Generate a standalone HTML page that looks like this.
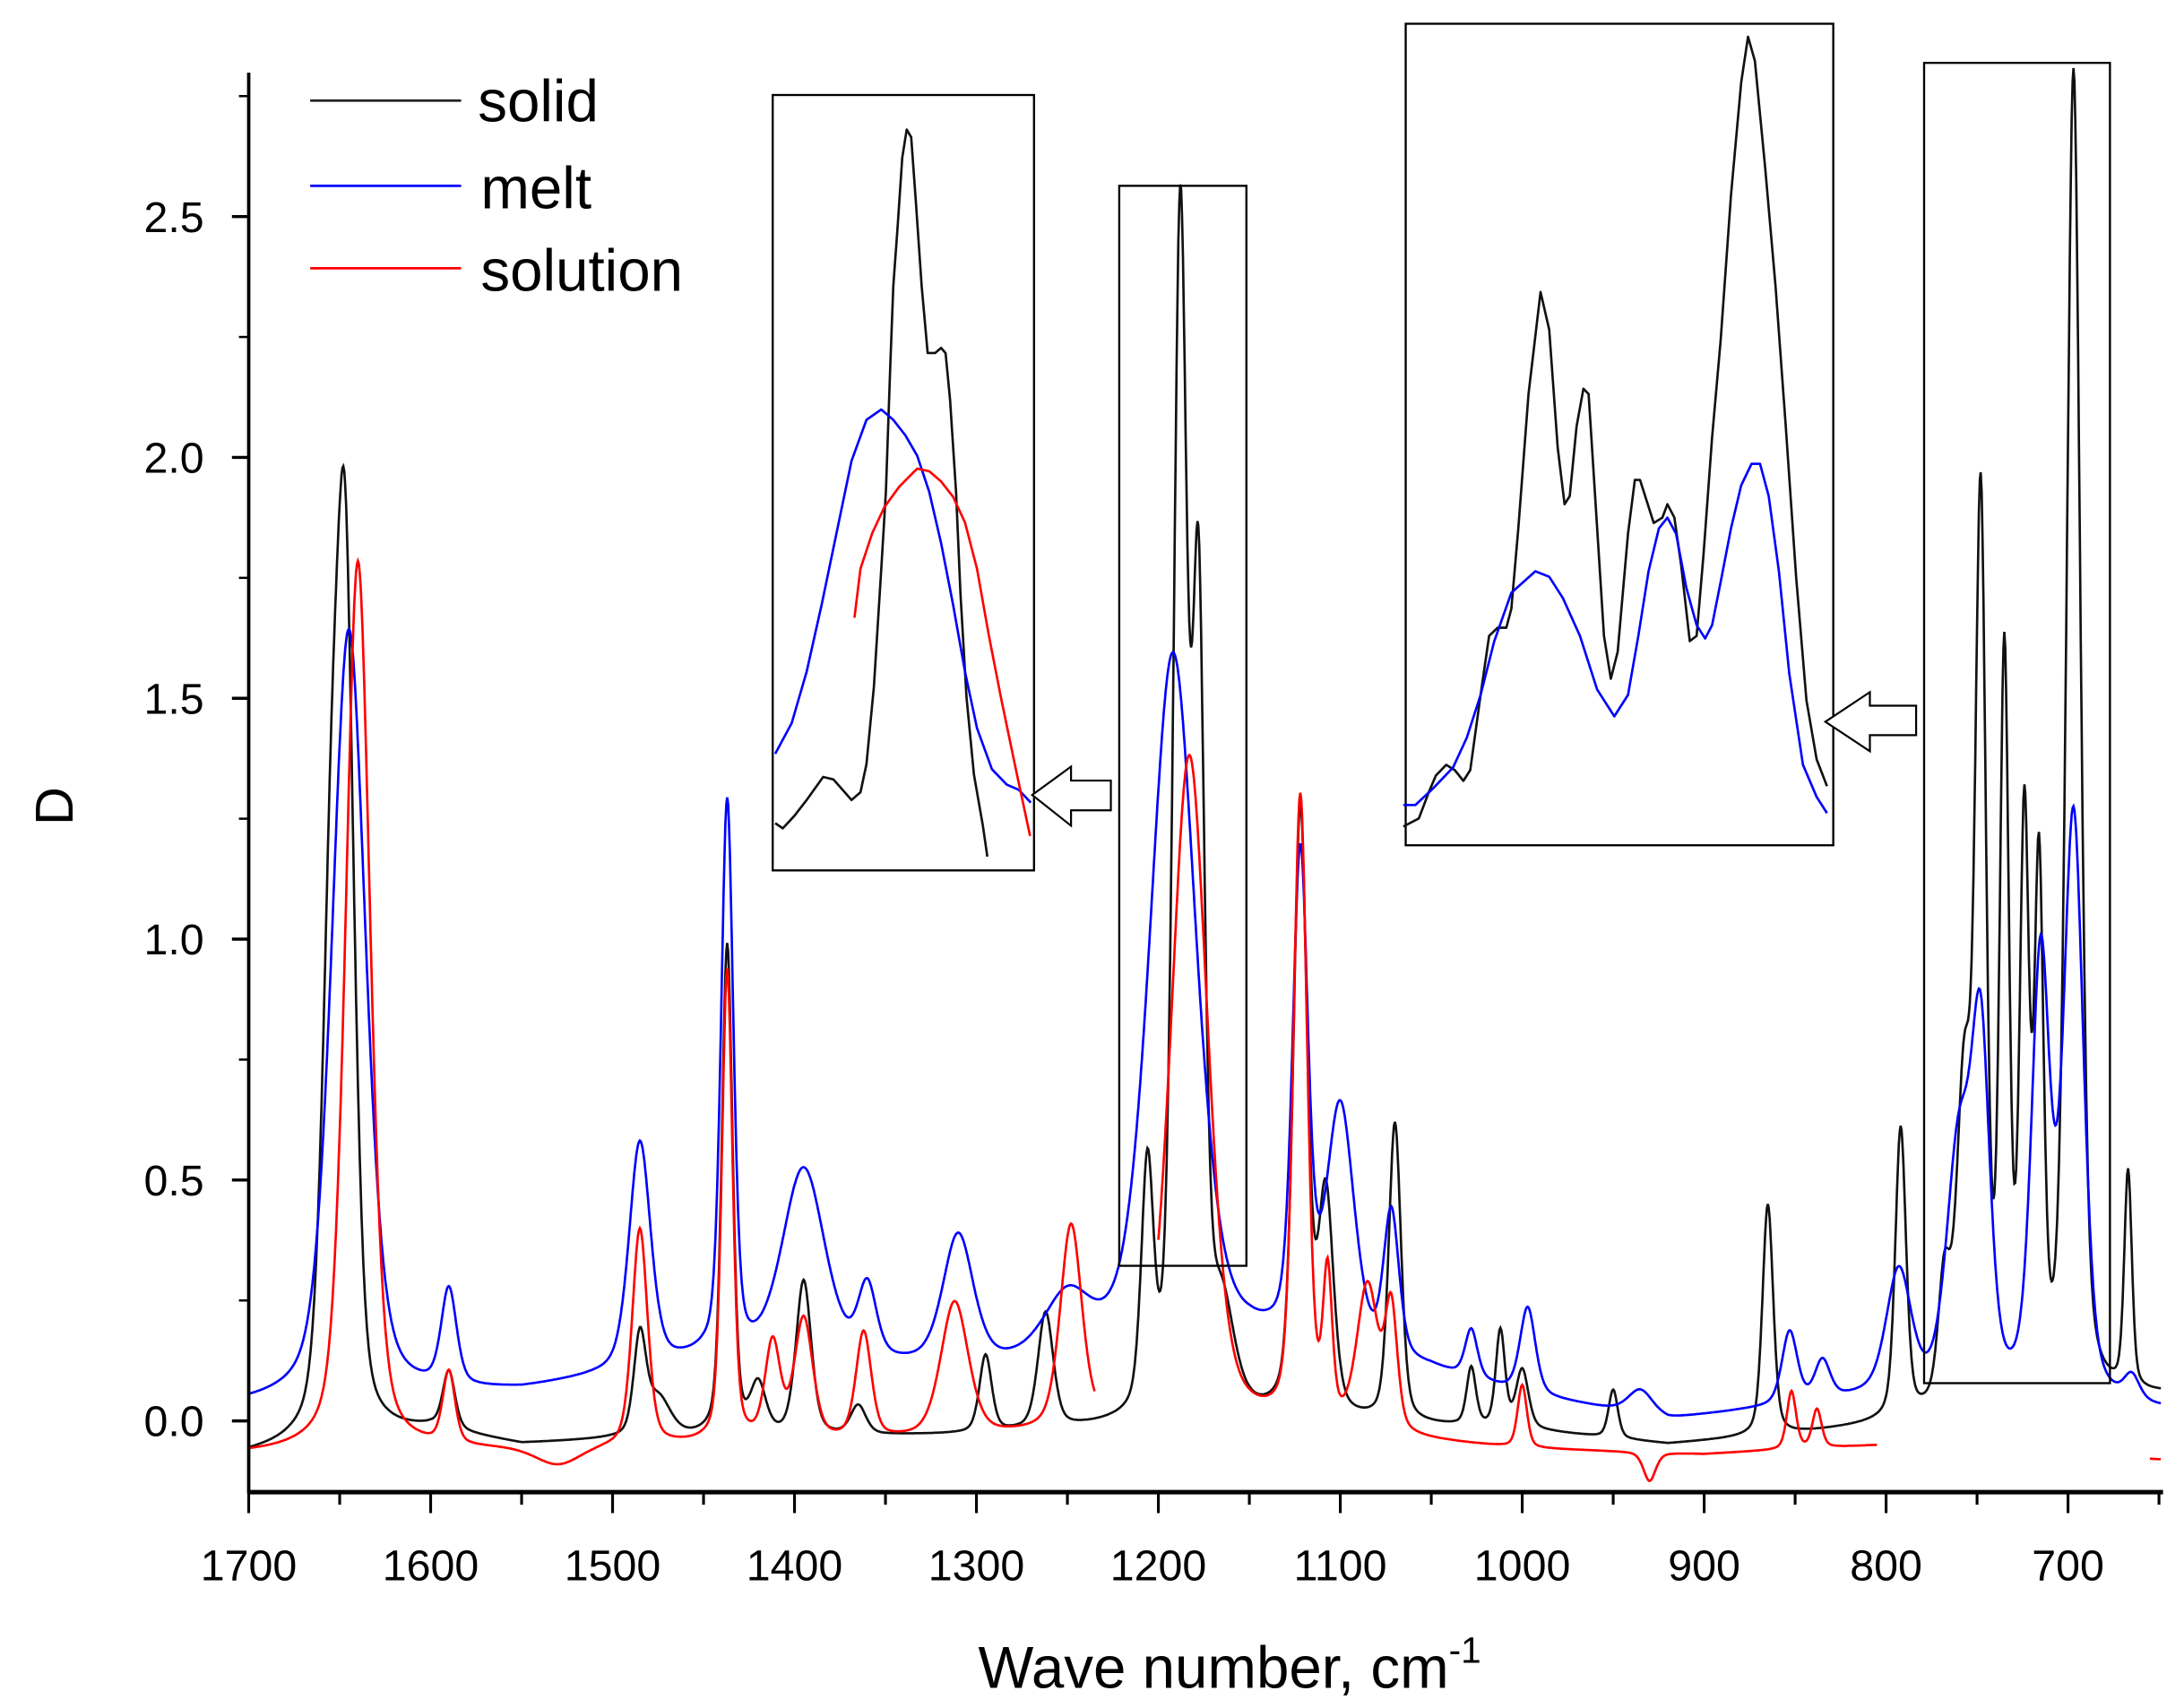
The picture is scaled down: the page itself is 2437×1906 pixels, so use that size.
<!DOCTYPE html>
<html><head><meta charset="utf-8"><style>
html,body{margin:0;padding:0;background:#fff;}
svg{display:block;}
text{font-family:"Liberation Sans",Arial,sans-serif;fill:#000;}
</style></head><body>
<svg id="s" width="2437" height="1906" viewBox="0 0 1563 1222.5" preserveAspectRatio="none" xmlns="http://www.w3.org/2000/svg">
<defs><clipPath id="pc"><rect x="179" y="40" width="1369" height="1027"/></clipPath></defs>
<g id="curves" clip-path="url(#pc)"></g>
<g id="ins"></g>
<g id="ax" stroke="#000" fill="none"></g>
<g id="lab"></g>
<line x1="222" y1="72" x2="330" y2="72" stroke="#222" stroke-width="1.8"/>
<line x1="222" y1="133" x2="330" y2="133" stroke="#0000ff" stroke-width="1.8"/>
<line x1="222" y1="192" x2="330" y2="192" stroke="#ff0000" stroke-width="1.8"/>
<text x="342" y="87" font-size="42">solid</text>
<text x="344" y="149" font-size="42">melt</text>
<text x="344" y="208" font-size="42">solution</text>
<text x="880" y="1208" font-size="42" text-anchor="middle">Wave number, cm<tspan dy="-18" font-size="26">-1</tspan></text>
<text transform="translate(52,577) rotate(-90)" font-size="38" text-anchor="middle">D</text>
</svg>
<script>
var NS="http://www.w3.org/2000/svg";
function X(w){return 178+(1700-w)*1.302;}
function Y(d){return 1017-d*344.8;}
function el(p,tag,a){var e=document.createElementNS(NS,tag);for(var k in a)e.setAttribute(k,a[k]);p.appendChild(e);return e;}
function f(w,pk){var s=0;for(var i=0;i<pk.length;i++){var d=(w-pk[i][0])/pk[i][2];s+=pk[i][1]*(0.4/(1+d*d)+0.6*Math.exp(-0.693*d*d));}return s;}
function interp(w,t){for(var i=0;i<t.length-1;i++){if(w<=t[i][0]&&w>=t[i+1][0]){var r=(t[i][0]-w)/(t[i][0]-t[i+1][0]);return t[i][1]+r*(t[i+1][1]-t[i][1]);}}return t[t.length-1][1];}
var black=[[1655,0.9,6],[1647,1.7,6],[1590,0.12,4],[1485,0.2,4],[1475,0.08,8],[1437,1.02,3.5],[1420,0.1,5],[1395,0.32,5],[1365,0.06,5],[1295,0.16,4],[1262,0.24,5],[1206,0.5,4],[1188,2.45,4.5],[1178,1.6,4],[1165,0.2,8],[1122,1.25,4.5],[1108,0.45,5],[1070,0.62,4],[1028,0.12,3],[1012,0.2,3],[1000,0.12,4],[950,0.1,3],[865,0.48,3.5],[792,0.6,3.5],[768,0.25,4],[757,0.65,5],[748,1.8,3.5],[735,1.5,3],[724,1.15,3],[716,1.05,3],[697,2.75,4.5],[667,0.45,2.5]];
var blue=[[1645,1.6,11],[1590,0.2,5],[1485,0.47,7],[1437,1.15,4],[1395,0.4,14],[1360,0.15,6],[1310,0.27,10],[1250,0.12,15],[1192,1.45,15],[1122,1.0,5],[1100,0.5,9],[1072,0.3,5],[1028,0.1,4],[997,0.18,5],[935,0.05,8],[853,0.15,5],[835,0.08,5],[793,0.25,8],[760,0.5,8],[748,0.7,6],[715,0.9,6],[697,1.2,6.5],[665,0.05,5]];
var red=[[1640,1.85,8],[1590,0.15,4],[1485,0.45,5],[1437,0.98,3.5],[1412,0.2,5],[1395,0.25,6],[1362,0.22,5],[1312,0.28,9],[1248,0.42,7],[1183,1.4,12],[1122,1.3,4.5],[1107,0.3,3],[1085,0.3,7],[1072,0.25,4],[1000,0.13,3],[852,0.12,3],[838,0.08,3],[1530,-0.04,15],[930,-0.06,4]];
var bBase=[[1700,-0.07],[1600,-0.02],[1550,-0.05],[1500,-0.04],[1300,-0.03],[1150,0.0],[1000,-0.02],[920,-0.05],[850,-0.03],[650,0.05]];
var uBase=[[1700,0.03],[1550,0.06],[1450,0.12],[1300,0.1],[1150,0.15],[1050,0.1],[1000,0.05],[920,0.0],[800,0.05],[650,0.02]];
var rBase=[[1700,-0.07],[1550,-0.06],[1300,-0.04],[1150,-0.02],[1000,-0.06],[900,-0.07],[800,-0.05],[650,-0.08]];
function path(pk,base,a,b){var s="";for(var w=a;w>=b;w-=0.5){var v=f(w,pk)+interp(w,base);s+=(s?"L":"M")+X(w).toFixed(1)+" "+Y(v).toFixed(1);}return s;}
var C=document.getElementById("curves");
el(C,"path",{d:path(black,bBase,1700,649),stroke:"#111",fill:"none","stroke-width":1.7});
el(C,"path",{d:path(blue,uBase,1700,649),stroke:"#0000ff",fill:"none","stroke-width":1.7});
el(C,"path",{d:path(red,rBase,1700,1235)+path(red,rBase,1200,805)+path(red,rBase,655,649),stroke:"#ff0000",fill:"none","stroke-width":1.7});
var I=document.getElementById("ins");
function z3(p){return [(1560+p[0]/2.613)/1.559,(20+p[1]/1.668)/1.559];}
function z4(p){return [(850+p[0]/3)/1.559,(90+p[1]/1.744)/1.559];}
function poly(pts,tf,col,w){var s="";for(var i=0;i<pts.length;i++){var q=tf(pts[i]);s+=(i?"L":"M")+q[0].toFixed(1)+" "+q[1].toFixed(1);}el(I,"path",{d:s,stroke:col,fill:"none","stroke-width":w||1.7,"stroke-linejoin":"round"});}
function rect(x1,y1,x2,y2){el(I,"rect",{x:x1,y:y1,width:x2-x1,height:y2-y1,fill:"#fff",stroke:"#000","stroke-width":1.5});}
function rectO(x1,y1,x2,y2){el(I,"rect",{x:x1,y:y1,width:x2-x1,height:y2-y1,fill:"none",stroke:"#000","stroke-width":1.5});}
rectO(801,133,892,906);rectO(1377,45,1510,990);
rect(553,68,740,623);rect(1006,17,1312,605);
poly([[45,1445],[70,1455],[110,1430],[150,1400],[205,1355],[240,1360],[270,1380],[300,1400],[330,1385],[350,1330],[375,1180],[400,950],[415,800],[430,550],[440,400],[455,280],[470,150],[485,95],[500,110],[515,230],[535,400],[555,530],[580,530],[600,520],[615,530],[630,620],[650,800],[665,1000],[685,1200],[710,1350],[740,1450],[755,1510]],z4,"#111");
poly([[45,1310],[100,1250],[150,1150],[200,1020],[250,880],[300,740],[350,660],[400,640],[440,660],[480,690],[520,730],[560,800],[600,900],[640,1020],[680,1150],[720,1260],[770,1340],[820,1370],[860,1380],[900,1405]],z4,"#0000ff");
poly([[310,1045],[330,950],[370,880],[410,830],[460,790],[520,755],[560,760],[600,780],[640,810],[680,860],[720,950],[760,1080],[800,1200],[850,1340],[898,1470]],z4,"#ff0000");
poly([[15,1505],[60,1490],[90,1440],[110,1410],[140,1390],[165,1400],[190,1420],[210,1400],[240,1260],[265,1150],[290,1135],[315,1135],[330,1100],[350,950],[380,700],[415,510],[440,580],[465,800],[485,905],[500,890],[520,760],[540,690],[555,700],[575,900],[600,1150],[620,1230],[640,1180],[670,960],[690,860],[705,860],[725,900],[745,940],[770,930],[785,905],[805,930],[825,1020],[850,1160],[870,1150],[890,1000],[915,780],[940,600],[970,330],[1000,120],[1020,35],[1040,80],[1070,280],[1100,500],[1130,760],[1160,1040],[1190,1270],[1220,1380],[1250,1430]],z3,"#111");
poly([[15,1465],[50,1465],[100,1435],[160,1395],[200,1340],[240,1260],[280,1160],[330,1070],[400,1030],[440,1040],[480,1080],[530,1150],[580,1250],[630,1300],[670,1260],[700,1150],[730,1030],[760,950],[785,930],[810,960],[840,1060],[870,1130],[895,1155],[915,1130],[940,1050],[970,950],[1000,870],[1030,830],[1055,830],[1080,890],[1110,1030],[1140,1220],[1180,1390],[1220,1450],[1250,1480]],z3,"#0000ff");
function arrow(tf,pts){var s="";for(var i=0;i<pts.length;i++){var q=tf(pts[i]);s+=(i?"L":"M")+q[0].toFixed(1)+" "+q[1].toFixed(1);}el(I,"path",{d:s+"Z",fill:"#fff",stroke:"#000","stroke-width":1.4});}
arrow(z4,[[905,1390],[1035,1335],[1035,1362],[1168,1362],[1168,1420],[1035,1420],[1035,1450]]);
arrow(z3,[[1245,1310],[1375,1255],[1375,1280],[1510,1280],[1510,1335],[1375,1335],[1375,1365]]);
var A=document.getElementById("ax"),L=document.getElementById("lab");
el(A,"line",{x1:178,y1:52,x2:178,y2:1069,"stroke-width":2.4});
el(A,"line",{x1:177,y1:1068,x2:1548,y2:1068,"stroke-width":3.2});
for(var d=-0.0;d<=2.76;d+=0.25){var y=Y(d);var maj=Math.abs(d*2-Math.round(d*2))<0.01;el(A,"line",{x1:maj?166:171,y1:y,x2:178,y2:y,"stroke-width":maj?2.2:1.6});if(maj){var t=el(L,"text",{x:146,y:y+11,"font-size":31,"text-anchor":"end"});t.textContent=d.toFixed(1);}}
for(var w=1700;w>=650;w-=50){var x=X(w);var maj=(w%100==0);el(A,"line",{x1:x,y1:1068,x2:x,y2:maj?1083:1077,"stroke-width":2});if(maj){var t=el(L,"text",{x:x,y:1131,"font-size":31,"text-anchor":"middle"});t.textContent=w;}}
</script>
</body></html>
